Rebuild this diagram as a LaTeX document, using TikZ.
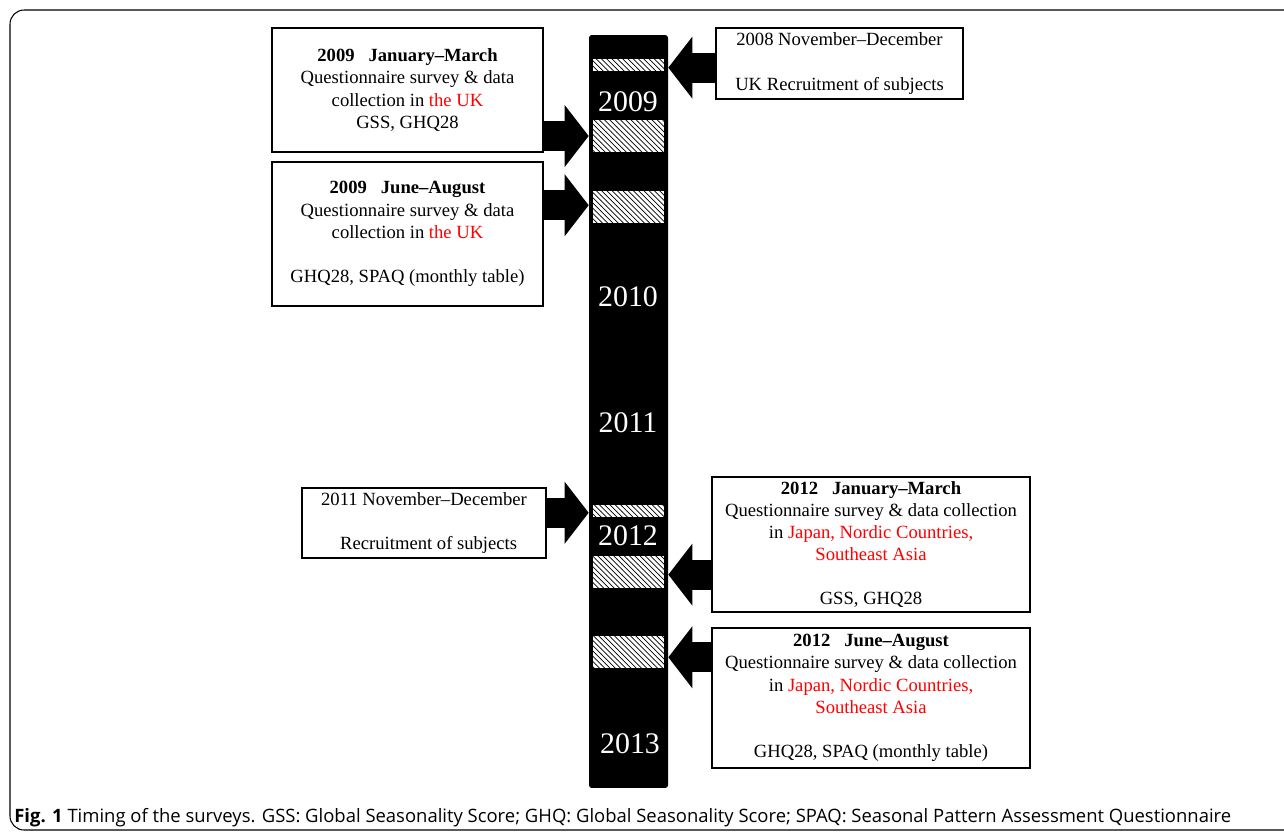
\documentclass[tikz,border=0pt]{standalone}
\usepackage{fontspec}
\setmainfont{Liberation Serif}
\newfontfamily\capfont{Open Sans}
\usetikzlibrary{arrows.meta,positioning,calc,patterns}
\tikzset{
  infobox/.style={draw, line width=1.5pt, align=center, inner sep=0pt, font=\fontsize{10.6}{12.6}\selectfont},
  timebar/.style={fill=black, rounded corners=1.5pt, inner sep=0pt, minimum width=1.58cm, minimum height=15.06cm},
  band/.style={preaction={fill=white}, pattern=north west lines, inner sep=0pt, minimum width=1.42cm},
  yearlbl/.style={text=white, inner sep=0pt, font=\fontsize{17}{20}\selectfont},
  blockarr/.style={-{Triangle[length=0.48cm, width=1.24cm, line width=0pt]}, line width=0.6cm},
}
\newcommand{\hl}[1]{\textcolor{red}{#1}}

\begin{document}
\begin{tikzpicture}[x=0.02cm, y=-0.02cm]
  \useasboundingbox (0,0) rectangle (1284,833);
  \draw[line width=0.6pt, rounded corners=8pt] (1290,10) -- (10,10) -- (10,830) -- (1290,830);

  % time line
  \node[timebar] (bar) at (628.5,411.5) {};
  \node[band, minimum height=0.24cm] (b1) at (628.5,65) {};
  \node[band, minimum height=0.64cm] (b2) at (628.5,136) {};
  \node[band, minimum height=0.64cm] (b3) at (628.5,207) {};
  \node[band, minimum height=0.24cm] (b4) at (628.5,511) {};
  \node[band, minimum height=0.64cm] (b5) at (628.5,572) {};
  \node[band, minimum height=0.64cm] (b6) at (628.5,652) {};
  \node[yearlbl] (y2009) at (628,102) {2009};
  \node[yearlbl] (y2010) at (628,297) {2010};
  \node[yearlbl] (y2011) at (628,423) {2011};
  \node[yearlbl] (y2012) at (628,536) {2012};
  \node[yearlbl] (y2013) at (630,744) {2013};

  % survey boxes
  \node[infobox, minimum width=5.42cm, minimum height=2.48cm] (ukA) at (407.5,90)
    {{\bfseries 2009\ \ \ January--March}\\Questionnaire survey \& data\\collection in \hl{the UK}\\GSS, GHQ28};
  \node[infobox, minimum width=5.42cm, minimum height=2.88cm] (ukB) at (407.5,234)
    {{\bfseries 2009\ \ \ June--August}\\Questionnaire survey \& data\\collection in \hl{the UK}\\[12.6pt]GHQ28, SPAQ (monthly table)};
  \node[infobox, minimum width=4.94cm, minimum height=1.42cm] (ukR) at (839.5,63.5)
    {2008 November--December\\[12.6pt]UK Recruitment of subjects};
  \node[infobox, minimum width=4.88cm, minimum height=1.40cm] (asR) at (424,523)
    {2011 November--December\\[12.6pt]\ \ Recruitment of subjects};
  \node[infobox, minimum width=6.36cm, minimum height=2.70cm] (asA) at (871,544.5)
    {{\bfseries 2012\ \ \ January--March}\\Questionnaire survey \& data collection\\in \hl{Japan, Nordic Countries,}\\\hl{Southeast Asia}\\[12.6pt]GSS, GHQ28};
  \node[infobox, minimum width=6.36cm, minimum height=2.80cm] (asB) at (871,698)
    {{\bfseries 2012\ \ \ June--August}\\Questionnaire survey \& data collection\\in \hl{Japan, Nordic Countries,}\\\hl{Southeast Asia}\\[12.6pt]GHQ28, SPAQ (monthly table)};

  % arrows
  \draw[blockarr] (ukA.east |- b2.west) -- (bar.west |- b2.west);
  \draw[blockarr] ([yshift=1pt]ukB.east |- b3.west) -- ([yshift=1pt]bar.west |- b3.west);
  \draw[blockarr] ([yshift=-1.5pt]ukR.west |- b1.east) -- ([yshift=-1.5pt]bar.east |- b1.east);
  \draw[blockarr] ([yshift=-1pt]asR.east |- b4.west) -- ([yshift=-1pt]bar.west |- b4.west);
  \draw[blockarr] ([yshift=-1.5pt]asA.west |- b5.east) -- ([yshift=-1.5pt]bar.east |- b5.east);
  \draw[blockarr] ([yshift=-3pt]asB.west |- b6.east) -- ([yshift=-3pt]bar.east |- b6.east);

  \node[anchor=base west, inner sep=0pt, font=\capfont\fontsize{10.5}{12}\selectfont] (cap) at (14,822)
    {{\bfseries Fig. 1} Timing of the surveys. GSS: Global Seasonality Score; GHQ: Global Seasonality Score; SPAQ: Seasonal Pattern Assessment Questionnaire};
\end{tikzpicture}
\end{document}
